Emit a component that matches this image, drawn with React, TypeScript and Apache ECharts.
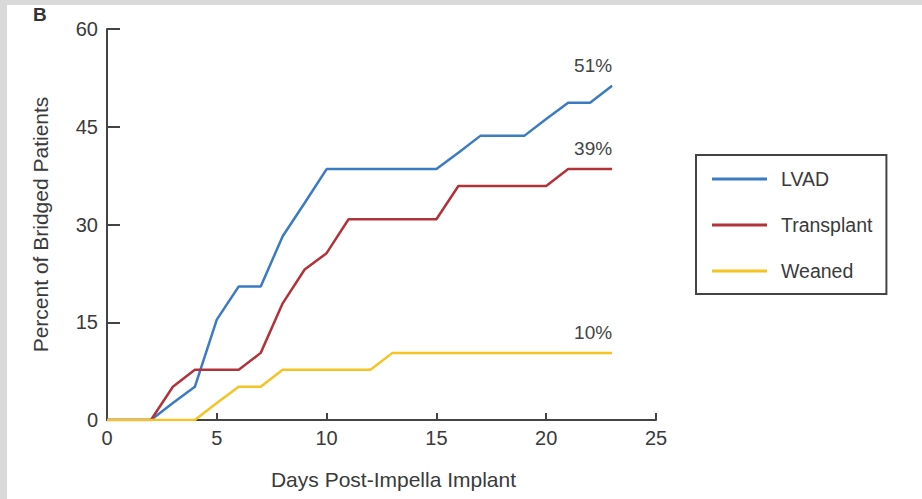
import React, { useEffect, useRef } from "react";
import * as echarts from "echarts";

const days = [0, 1, 2, 3, 4, 5, 6, 7, 8, 9, 10, 11, 12, 13, 14, 15, 16, 17, 18, 19, 20, 21, 22, 23];
const seriesNames = ["LVAD", "Transplant", "Weaned"];
const lvad = [0, 0, 0, 2.6, 5.1, 15.4, 20.5, 20.5, 28.2, 33.3, 38.5, 38.5, 38.5, 38.5, 38.5, 38.5, 41.0, 43.6, 43.6, 43.6, 46.2, 48.7, 48.7, 51.3];
const transplant = [0, 0, 0, 5.1, 7.7, 7.7, 7.7, 10.3, 17.9, 23.1, 25.6, 30.8, 30.8, 30.8, 30.8, 30.8, 35.9, 35.9, 35.9, 35.9, 35.9, 38.5, 38.5, 38.5];
const weaned = [0, 0, 0, 0, 0, 2.6, 5.1, 5.1, 7.7, 7.7, 7.7, 7.7, 7.7, 10.3, 10.3, 10.3, 10.3, 10.3, 10.3, 10.3, 10.3, 10.3, 10.3, 10.3];
const endLabels = ["51%", "39%", "10%"];
const yTicks = [0, 15, 30, 45, 60];
const xTicks = [0, 5, 10, 15, 20, 25];
const colors = ["#3a7bc2", "#b2323a", "#f5c423"];

const FONT = "'Liberation Sans', Arial, Helvetica, sans-serif";

export default function App() {
  const ref = useRef<HTMLDivElement>(null);
  useEffect(() => {
    if (!ref.current) return;
    const chart = echarts.init(ref.current, undefined, { renderer: "svg" });
    const allValues = [lvad, transplant, weaned];
    const series = allValues.map((vals, si) => ({
      name: seriesNames[si],
      type: "line",
      symbol: "circle",
      symbolSize: 0,
      showSymbol: true,
      lineStyle: { color: colors[si], width: 2.5 },
      itemStyle: { color: colors[si] },
      emphasis: { disabled: true },
      data: vals.map((v, i) =>
        i === vals.length - 1
          ? {
              value: [days[i], v],
              label: {
                show: true,
                position: "top",
                distance: 5,
                offset: [-19, -6],
                formatter: endLabels[si],
                fontSize: 19,
                fontFamily: FONT,
                color: "#444",
              },
            }
          : { value: [days[i], v] }
      ),
    }));
    chart.setOption({
      animation: false,
      backgroundColor: "#ffffff",
      textStyle: { fontFamily: FONT },
      grid: { left: 107, right: 266, top: 29, bottom: 79, outerBoundsMode: "none", containLabel: false },
      xAxis: {
        type: "value",
        min: xTicks[0],
        max: xTicks[xTicks.length - 1],
        interval: 5,
        name: "Days Post-Impella Implant",
        nameLocation: "middle",
        nameGap: 49,
        nameTextStyle: { fontSize: 21, color: "#3a3a3a", fontFamily: FONT, padding: [0, 0, 0, 24] },
        axisLine: { show: true, lineStyle: { color: "#444", width: 2 } },
        axisTick: { show: true, inside: true, length: 7, lineStyle: { color: "#444", width: 2 } },
        axisLabel: { fontSize: 20, color: "#3a3a3a", margin: 8, fontFamily: FONT },
        splitLine: { show: false },
      },
      yAxis: {
        type: "value",
        min: yTicks[0],
        max: yTicks[yTicks.length - 1],
        interval: 15,
        name: "Percent of Bridged Patients",
        nameLocation: "middle",
        nameGap: 56,
        nameTextStyle: { fontSize: 21, color: "#3a3a3a", fontFamily: FONT },
        axisLine: { show: true, lineStyle: { color: "#444", width: 2 } },
        axisTick: { show: true, inside: true, length: 13, lineStyle: { color: "#444", width: 2 } },
        axisLabel: { fontSize: 20, color: "#3a3a3a", margin: 9, fontFamily: FONT },
        splitLine: { show: false },
      },
      legend: {
        orient: "vertical",
        left: 696,
        top: 155,
        data: seriesNames.map((n) => ({ name: n, icon: "rect" })),
        itemWidth: 55,
        itemHeight: 3,
        itemGap: 26,
        padding: [14, 14, 13, 16],
        borderColor: "#444",
        borderWidth: 2,
        textStyle: { fontSize: 19.5, lineHeight: 18, color: "#3a3a3a", fontFamily: FONT, padding: [0, 0, 0, 9] },
      },
      graphic: [
        {
          type: "text",
          left: 33,
          top: 5,
          z: 5,
          style: { text: "B", font: `bold 19px ${FONT}`, fill: "#333" },
        },
        { type: "rect", z: 100, shape: { x: 0, y: 0, width: 922, height: 5 }, style: { fill: "#d9d9d9" } },
        { type: "rect", z: 100, shape: { x: 0, y: 0, width: 7, height: 499 }, style: { fill: "#d9d9d9" } },
      ],
      series,
    });
    return () => chart.dispose();
  }, []);
  return (
    <div
      ref={ref}
      style={{ position: "fixed", left: 0, top: 0, width: 922, height: 499 }}
    />
  );
}
